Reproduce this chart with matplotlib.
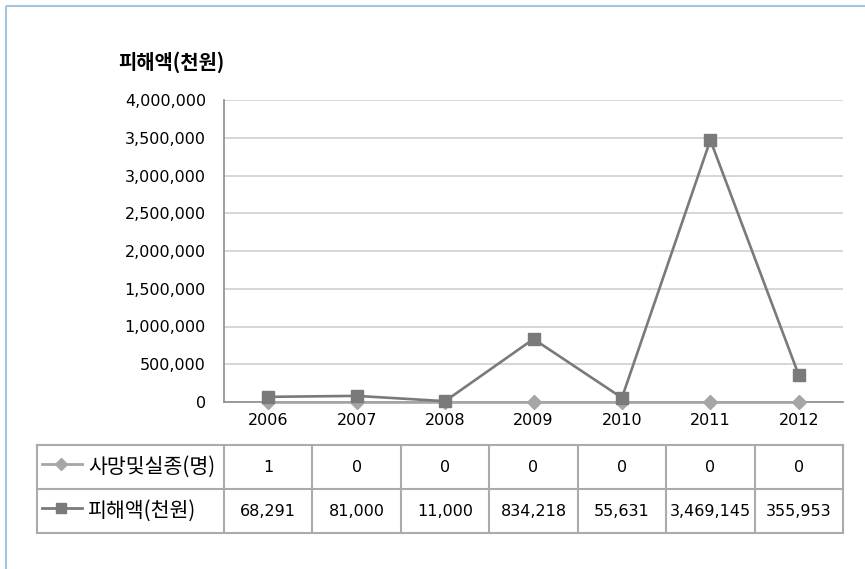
import matplotlib
matplotlib.use("Agg")
import matplotlib.pyplot as plt
from matplotlib.transforms import blended_transform_factory
from matplotlib.ticker import FuncFormatter, MultipleLocator

plt.rcParams['font.family'] = ['DejaVu Sans', 'Noto Sans CJK KR']
KR = ['Noto Sans CJK KR', 'DejaVu Sans']

years = ["2006", "2007", "2008", "2009", "2010", "2011", "2012"]
casualties = [1, 0, 0, 0, 0, 0, 0]
damage = [68291, 81000, 11000, 834218, 55631, 3469145, 355953]
series_names = ["사망및실종(명)", "피해액(천원)"]
axis_title = "피해액(천원)"

W, H = 865, 569
fig = plt.figure(figsize=(W / 100, H / 100), dpi=100)

# overlay axes in pixel units for the frame and the data table
over = fig.add_axes([0, 0, 1, 1])
over.set_xlim(0, W)
over.set_ylim(H, 0)
over.axis("off")

frame_c = "#a7c1e0"
over.plot([6, 6], [6, H], color=frame_c, lw=1.5, solid_capstyle="butt")
over.plot([6, W], [6, 6], color=frame_c, lw=1.5, solid_capstyle="butt")

# main chart
ax = fig.add_axes([224 / W, 167 / H, (843 - 224) / W, 302 / H])
x = list(range(len(years)))

c_light = "#a6a6a6"
c_dark = "#7a7a7a"
ax.plot(x, casualties, color=c_light, lw=1.9, marker="D", markersize=7.5,
        zorder=3, clip_on=False)
ax.plot(x, damage, color=c_dark, lw=1.9, marker="s", markersize=8.5,
        zorder=4, clip_on=False)

ax.set_xlim(-0.5, len(years) - 0.5)
ax.set_ylim(0, 4000000)
ax.yaxis.set_major_locator(MultipleLocator(500000))
ax.yaxis.set_major_formatter(FuncFormatter(lambda v, p: f"{int(v):,}"))
ax.set_xticks(x)
ax.set_xticklabels(years)
ax.tick_params(axis="both", length=0, labelsize=11.5, colors="#000000")
ax.tick_params(axis="y", pad=13)
ax.tick_params(axis="x", pad=8)
ax.grid(axis="y", color="#d0d0d0", lw=1.2)
ax.set_axisbelow(True)
for s in ["top", "right"]:
    ax.spines[s].set_visible(False)
for s in ["left", "bottom"]:
    ax.spines[s].set_color("#8c8c8c")
    ax.spines[s].set_linewidth(1.2)

fig.text(118 / W, 1 - 62 / H, axis_title, fontsize=14.3, fontweight="bold",
         ha="left", va="center", family=KR)

# data table under the chart: x in data units, y in pixels
tr = blended_transform_factory(ax.transData, over.transData)
grid_c = "#ababab"
rows_y = [445, 489, 533]
left_px = 37
for y in rows_y:
    over.plot([left_px, 843], [y, y], color=grid_c, lw=1.5)
over.plot([left_px, left_px], [rows_y[0], rows_y[-1]], color=grid_c, lw=1.5)
for k in range(len(years) + 1):
    ax_x = k - 0.5
    over.plot([ax_x, ax_x], [rows_y[0], rows_y[-1]], color=grid_c, lw=1.5,
              transform=tr, clip_on=False)

row_data = [casualties, damage]
styles = [(c_light, "D", 6.5), (c_dark, "s", 7.5)]
for r, (vals, name) in enumerate(zip(row_data, series_names)):
    yc = (rows_y[r] + rows_y[r + 1]) / 2
    col, mk, ms = styles[r]
    over.plot([42, 82], [yc - 3, yc - 3], color=col, lw=2)
    over.plot([61], [yc - 3], color=col, marker=mk, markersize=ms, lw=0)
    over.text(88, yc, name, fontsize=14.8, ha="left", va="center", family=KR)
    for i, v in enumerate(vals):
        over.text(i, yc, f"{v:,}", fontsize=11.5, ha="center", va="center",
                  transform=tr)

fig.savefig("out.png", dpi=100, facecolor="white")
